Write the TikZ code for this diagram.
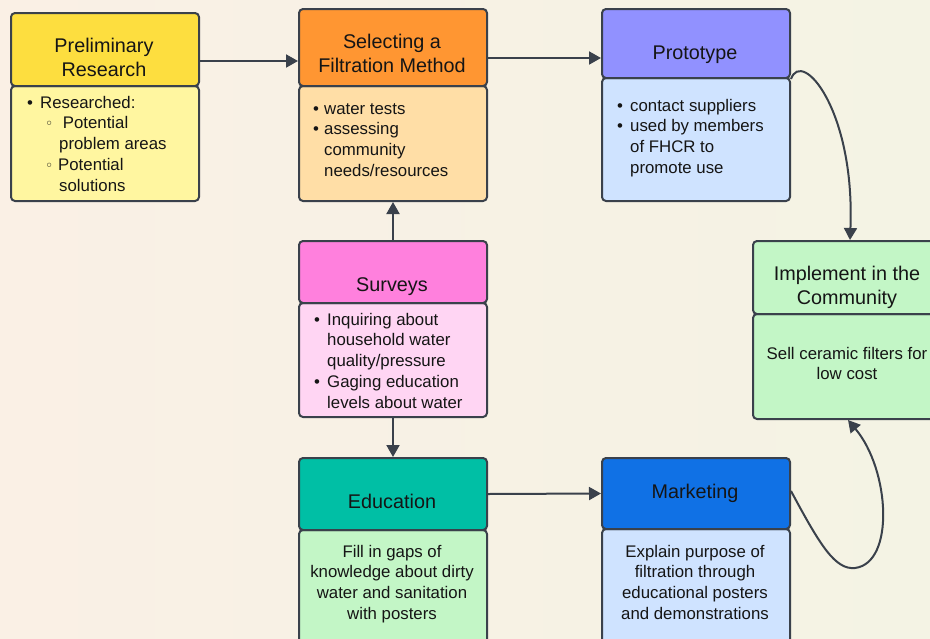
\documentclass[tikz,border=0pt]{standalone}
\usepackage{fontspec}
\setmainfont{Liberation Sans}
\newfontfamily\dejavu{DejaVu Sans}
\usetikzlibrary{arrows.meta,calc}
\definecolor{bord}{HTML}{3A414B}
\definecolor{bgL}{HTML}{FAF0E5}
\definecolor{bgR}{HTML}{F4F3E4}
\definecolor{ylH}{HTML}{FDDE3F}
\definecolor{ylB}{HTML}{FFF6A0}
\definecolor{orH}{HTML}{FF9632}
\definecolor{orB}{HTML}{FFDEA6}
\definecolor{puH}{HTML}{9191FF}
\definecolor{blB}{HTML}{CFE3FF}
\definecolor{pkH}{HTML}{FF80DD}
\definecolor{pkB}{HTML}{FFD5F3}
\definecolor{grB}{HTML}{C3F6C6}
\definecolor{tlH}{HTML}{00BFA5}
\definecolor{bluH}{HTML}{1071E5}
\definecolor{ink}{HTML}{151515}
\newcommand{\hfont}{\fontsize{19.8}{24}\selectfont}
\newcommand{\bfont}{\fontsize{16.8}{20.8}\selectfont}
\newcommand{\bl}[1]{\makebox[#1][l]{•}}
\newcommand{\sbl}{\makebox[13pt][l]{\dejavu\fontsize{14}{14}\selectfont ◦}}
\begin{document}
\begin{tikzpicture}[x=1pt,y=-1pt,
  box/.style={draw=bord, line width=2pt, rounded corners=4pt, minimum width=188pt, inner sep=0pt, anchor=north west},
  htxt/.style={font=\hfont, text=ink, align=center, anchor=north, inner sep=0pt},
  btxt/.style={font=\bfont, text=ink, align=left, anchor=north west, inner sep=0pt},
  ctxt/.style={font=\bfont, text=ink, align=center, anchor=north, inner sep=0pt},
  arr/.style={draw=bord, line width=2pt, -{Triangle[length=12pt,width=13pt]}}]
\useasboundingbox (0,0) rectangle (930,638);
\clip (0,0) rectangle (930,638);
\shade[left color=bgL, right color=bgR] (0,0) rectangle (930,638);

% Preliminary Research
\node[box, fill=ylB, minimum height=115pt] (prB) at (10,85) {};
\node[box, fill=ylH, minimum height=73pt] (prH) at (10,12) {};
\node[htxt] (prT) at (104,35.2) {\strut Preliminary\\Research};
\node[btxt] (prL) at (27,93.3) {\strut\bl{13pt}Researched:\\
 \hspace*{18pt}\sbl\ Potential\\
 \hspace*{32pt}problem areas\\
 \hspace*{18pt}\sbl Potential\\
 \hspace*{32pt}solutions};

% Selecting a Filtration Method
\node[box, fill=orB, minimum height=115pt] (selB) at (298,85) {};
\node[box, fill=orH, minimum height=77pt] (selH) at (298,8) {};
\node[htxt] (selT) at (392,31.2) {\strut Selecting a\\Filtration Method};
\node[btxt] (selL) at (313,99.3) {\strut\bl{11pt}water tests\\
 \bl{11pt}assessing\\
 \hspace*{11pt}community\\
 \hspace*{11pt}needs/resources};

% Prototype
\node[box, fill=blB, minimum height=123pt] (proB) at (601,77) {};
\node[box, fill=puH, minimum height=69pt] (proH) at (601,8) {};
\node[htxt] (proT) at (695,42.2) {\strut Prototype};
\node[btxt] (proL) at (617,96.3) {\strut\bl{13pt}contact suppliers\\
 \bl{13pt}used by members\\
 \hspace*{13pt}of FHCR to\\
 \hspace*{13pt}promote use};

% Surveys
\node[box, fill=pkB, minimum height=114pt] (surB) at (298,302) {};
\node[box, fill=pkH, minimum height=62pt] (surH) at (298,240) {};
\node[htxt] (surT) at (392,274.2) {\strut Surveys};
\node[btxt] (surL) at (314,310.3) {\strut\bl{13pt}Inquiring about\\
 \hspace*{13pt}household water\\
 \hspace*{13pt}quality/pressure\\
 \bl{13pt}Gaging education\\
 \hspace*{13pt}levels about water};

% Implement in the Community
\node[box, fill=grB, minimum height=105pt] (impB) at (752,313) {};
\node[box, fill=grB, minimum height=73pt] (impH) at (752,240) {};
\node[htxt] (impT) at (847,263.2) {\strut Implement in the\\Community};
\node[ctxt] (impL) at (847,344.3) {\strut Sell ceramic filters for\\low cost};

% Education
\node[box, fill=grB, minimum height=130pt] (eduB) at (298,529) {};
\node[box, fill=tlH, minimum height=72pt] (eduH) at (298,457) {};
\node[htxt] (eduT) at (392,491.2) {\strut Education};
\node[ctxt] (eduL) at (392,542.3) {\strut Fill in gaps of\\knowledge about dirty\\water and sanitation\\with posters};

% Marketing
\node[box, fill=blB, minimum height=130pt] (mktB) at (601,528) {};
\node[box, fill=bluH, minimum height=71pt] (mktH) at (601,457) {};
\node[htxt] (mktT) at (695,481.2) {\strut Marketing};
\node[ctxt] (mktL) at (695,542.3) {\strut Explain purpose of\\filtration through\\educational posters\\and demonstrations};

% connectors
\coordinate (a1) at ([yshift=-11.5pt]prH.east);
\draw[arr] (a1) -- (a1 -| selH.west);
\coordinate (a2) at ([yshift=-10.5pt]selH.east);
\draw[arr] (a2) -- (a2 -| proH.west);
\draw[arr] (surH.north) -- (selB.south);
\draw[arr] (surB.south) -- (eduH.north);
\draw[arr] (eduH.east) -- (mktH.west);
\draw[arr] (proH.south east) .. controls (802,48) and (855,110) .. ([xshift=3pt]impH.north);
\draw[arr] ([yshift=2.5pt]mktH.east) .. controls (820,545) and (835,570) .. (855,568)
  .. controls (895,563) and (890,470) .. ([xshift=1pt]impB.south);
\end{tikzpicture}
\end{document}
